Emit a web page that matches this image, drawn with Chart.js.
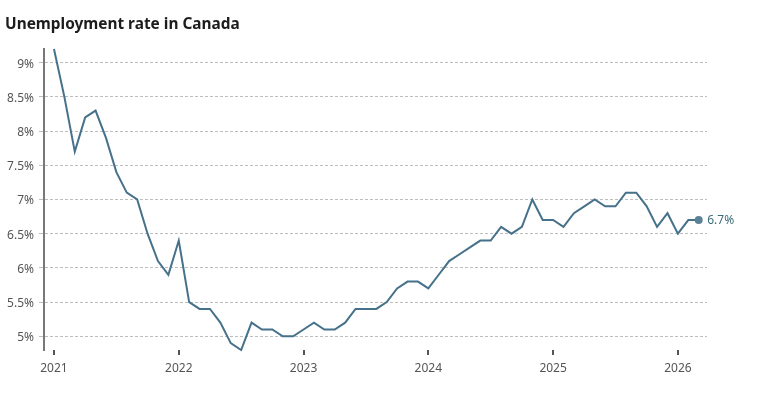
<!DOCTYPE html>
<html><head><meta charset="utf-8">
<script src="https://cdn.jsdelivr.net/npm/chart.js@4/dist/chart.umd.min.js"></script>
<style>
html,body{margin:0;padding:0;background:#fff;}
#wrap{position:relative;width:764px;height:395px;overflow:hidden;}
#title{position:absolute;left:5px;top:12.5px;line-height:22px;font-weight:bold;font-size:15.4px;font-family:"Noto Sans",sans-serif;color:#1c1c1c;white-space:nowrap;}
canvas{position:absolute;left:0;top:0;}
</style></head><body>
<div id="wrap"><canvas id="c" width="764" height="395"></canvas><div id="title">Unemployment rate in Canada</div></div>
<script>
// Monthly unemployment rate (%), Jan 2021 – Mar 2026
const rate = [
  9.2, 8.5, 7.7, 8.2, 8.3, 7.9, 7.4, 7.1, 7.0, 6.5, 6.1, 5.9,   // 2021
  6.4, 5.5, 5.4, 5.4, 5.2, 4.9, 4.8, 5.2, 5.1, 5.1, 5.0, 5.0,   // 2022
  5.1, 5.2, 5.1, 5.1, 5.2, 5.4, 5.4, 5.4, 5.5, 5.7, 5.8, 5.8,   // 2023
  5.7, 5.9, 6.1, 6.2, 6.3, 6.4, 6.4, 6.6, 6.5, 6.6, 7.0, 6.7,   // 2024
  6.7, 6.6, 6.8, 6.9, 7.0, 6.9, 6.9, 7.1, 7.1, 6.9, 6.6, 6.8,   // 2025
  6.5, 6.7, 6.7                                                 // 2026
];
const yearLabels = ['2021', '2022', '2023', '2024', '2025', '2026'];
const yTickValues = [5, 5.5, 6, 6.5, 7, 7.5, 8, 8.5, 9];

const FONT = 'Noto Sans';
const lastIdx = rate.length - 1;

const endLabel = {
  id: 'endLabel',
  afterDatasetsDraw(chart) {
    const meta = chart.getDatasetMeta(0);
    const pt = meta.data[lastIdx];
    const ctx = chart.ctx;
    ctx.save();
    ctx.font = '12px "' + FONT + '"';
    ctx.fillStyle = '#3b6d79';
    ctx.textAlign = 'left';
    ctx.textBaseline = 'middle';
    ctx.fillText(rate[lastIdx] + '%', pt.x + 8.5, pt.y + 1);
    ctx.restore();
  }
};

new Chart(document.getElementById('c'), {
  type: 'line',
  data: {
    datasets: [{
      data: rate.map((v, i) => ({ x: i, y: v })),
      borderColor: '#46718a',
      borderWidth: 2,
      tension: 0,
      clip: false,
      pointRadius: rate.map((v, i) => i === lastIdx ? 4 : 0),
      pointBackgroundColor: '#5a8195',
      pointBorderWidth: 0,
      pointHoverRadius: 0
    }]
  },
  options: {
    responsive: false,
    animation: false,
    events: [],
    layout: { padding: { left: 0, right: 57, top: 49, bottom: 0 } },
    plugins: { legend: { display: false }, tooltip: { enabled: false }, title: { display: false } },
    scales: {
      x: {
        type: 'linear',
        min: -0.96,
        max: 62.8,
        afterBuildTicks: s => { s.ticks = yearLabels.map((l, k) => ({ value: 12 * k })); },
        afterFit: s => { s.height = 45; },
        ticks: {
          callback: v => yearLabels[Math.round(v / 12)],
          font: { family: FONT, size: 12 },
          color: '#555',
          padding: 6,
          maxRotation: 0,
          autoSkip: false
        },
        grid: { drawOnChartArea: false, drawTicks: true, tickLength: 5, color: '#555', lineWidth: 2 },
        border: { display: false }
      },
      y: {
        min: 4.8,
        max: 9.2,
        afterBuildTicks: s => { s.ticks = yTickValues.map(v => ({ value: v })); },
        afterFit: s => { s.width = 44; },
        ticks: {
          callback: v => v + '%',
          font: { family: FONT, size: 12 },
          color: '#555',
          padding: 5,
          labelOffset: 1.5
        },
        grid: { color: '#bdbdbd', lineWidth: 1, drawTicks: true, tickLength: 5 },
        border: { display: true, color: '#777', width: 2, dash: [3, 2] }
      }
    }
  },
  plugins: [endLabel]
});
</script>
</body></html>
